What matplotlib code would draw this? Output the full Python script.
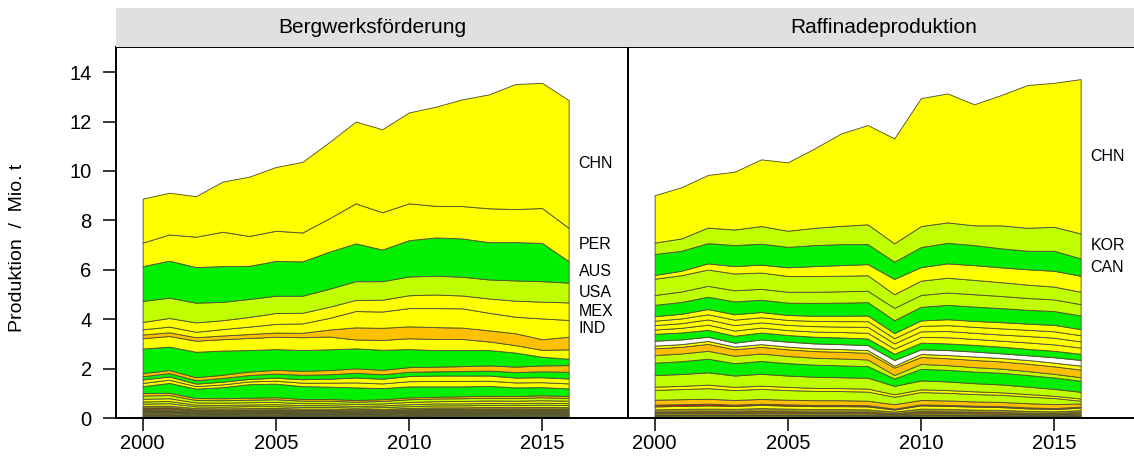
import matplotlib
matplotlib.use("Agg")
import matplotlib.pyplot as plt

plt.rcParams['font.family'] = ['Liberation Sans', 'DejaVu Sans']

years = [2000, 2001, 2002, 2003, 2004, 2005, 2006, 2007, 2008,
         2009, 2010, 2011, 2012, 2013, 2014, 2015, 2016]

# ---- Bergwerksförderung (Mio. t), Schichten von oben nach unten ----
mine_CHN = [1.78, 1.69, 1.64, 2.03, 2.40, 2.58, 2.86, 3.08, 3.31, 3.36, 3.68, 4.01, 4.32, 4.61, 5.06, 5.07, 5.17]
mine_PER = [0.95, 1.06, 1.23, 1.39, 1.21, 1.22, 1.17, 1.35, 1.62, 1.51, 1.49, 1.28, 1.31, 1.37, 1.34, 1.41, 1.35]
mine_AUS = [1.41, 1.50, 1.44, 1.45, 1.34, 1.41, 1.39, 1.50, 1.53, 1.28, 1.47, 1.55, 1.55, 1.51, 1.55, 1.55, 0.87]
mine_USA = [0.85, 0.82, 0.80, 0.74, 0.73, 0.70, 0.69, 0.73, 0.76, 0.75, 0.76, 0.76, 0.76, 0.77, 0.82, 0.83, 0.80]
mine_MEX = [0.30, 0.35, 0.38, 0.36, 0.39, 0.44, 0.43, 0.45, 0.45, 0.48, 0.52, 0.55, 0.52, 0.58, 0.65, 0.68, 0.71]
mine_IND = [0.21, 0.23, 0.22, 0.26, 0.30, 0.35, 0.38, 0.47, 0.66, 0.66, 0.74, 0.77, 0.78, 0.71, 0.67, 0.84, 0.68]
mine_BOL = [0.15, 0.15, 0.14, 0.15, 0.16, 0.17, 0.18, 0.28, 0.49, 0.49, 0.48, 0.48, 0.46, 0.45, 0.48, 0.43, 0.51]
mine_KAZ = [0.42, 0.43, 0.45, 0.46, 0.49, 0.50, 0.52, 0.52, 0.36, 0.40, 0.44, 0.45, 0.45, 0.35, 0.30, 0.28, 0.38]
mine_CAN = [0.99, 0.95, 1.03, 0.98, 0.87, 0.84, 0.84, 0.84, 0.81, 0.81, 0.73, 0.67, 0.65, 0.62, 0.57, 0.35, 0.26]
mine_SWE = [0.13, 0.12, 0.12, 0.13, 0.14, 0.15, 0.16, 0.17, 0.18, 0.18, 0.19, 0.19, 0.20, 0.21, 0.22, 0.24, 0.27]
mine_IRL = [0.13, 0.14, 0.14, 0.15, 0.16, 0.17, 0.18, 0.18, 0.19, 0.18, 0.17, 0.17, 0.18, 0.20, 0.22, 0.24, 0.27]
mine_RUS = [0.14, 0.13, 0.10, 0.11, 0.10, 0.12, 0.14, 0.16, 0.20, 0.19, 0.21, 0.22, 0.22, 0.21, 0.20, 0.20, 0.20]
mine_TUR = [0.13, 0.13, 0.10, 0.11, 0.11, 0.12, 0.14, 0.16, 0.20, 0.19, 0.21, 0.22, 0.22, 0.21, 0.20, 0.20, 0.20]
mine_BRA = [0.28, 0.40, 0.38, 0.45, 0.55, 0.55, 0.52, 0.50, 0.51, 0.45, 0.45, 0.42, 0.40, 0.40, 0.35, 0.33, 0.31]
mine_POL = [0.10, 0.09, 0.08, 0.08, 0.08, 0.08, 0.07, 0.07, 0.07, 0.07, 0.07, 0.07, 0.08, 0.08, 0.08, 0.08, 0.08]
mine_IRN = [0.13, 0.13, 0.10, 0.10, 0.10, 0.11, 0.10, 0.10, 0.09, 0.10, 0.11, 0.11, 0.11, 0.11, 0.11, 0.12, 0.11]
mine_MAR = [0.11, 0.11, 0.09, 0.09, 0.09, 0.09, 0.08, 0.08, 0.08, 0.08, 0.09, 0.09, 0.10, 0.10, 0.10, 0.10, 0.10]
mine_ERI = [0.09, 0.09, 0.07, 0.07, 0.07, 0.08, 0.07, 0.07, 0.07, 0.07, 0.08, 0.08, 0.08, 0.08, 0.08, 0.08, 0.08]
mine_VNM = [0.09, 0.10, 0.07, 0.07, 0.08, 0.07, 0.07, 0.07, 0.06, 0.07, 0.07, 0.08, 0.08, 0.08, 0.08, 0.09, 0.08]
mine_PRK = [0.07, 0.07, 0.06, 0.06, 0.06, 0.06, 0.06, 0.06, 0.05, 0.05, 0.06, 0.06, 0.06, 0.07, 0.06, 0.07, 0.06]
mine_ZAF = [0.05, 0.05, 0.04, 0.04, 0.04, 0.04, 0.03, 0.03, 0.03, 0.03, 0.04, 0.04, 0.04, 0.04, 0.04, 0.04, 0.04]
mine_ARG = [0.05, 0.05, 0.04, 0.04, 0.04, 0.04, 0.04, 0.04, 0.04, 0.04, 0.04, 0.04, 0.04, 0.04, 0.04, 0.04, 0.04]
mine_GRC = [0.04, 0.04, 0.03, 0.03, 0.03, 0.04, 0.03, 0.03, 0.03, 0.03, 0.03, 0.04, 0.04, 0.04, 0.04, 0.04, 0.04]
mine_NAM = [0.04, 0.04, 0.03, 0.03, 0.03, 0.03, 0.03, 0.03, 0.03, 0.03, 0.03, 0.03, 0.03, 0.04, 0.04, 0.04, 0.04]
mine_MNG = [0.03, 0.04, 0.03, 0.03, 0.03, 0.03, 0.03, 0.03, 0.02, 0.03, 0.03, 0.03, 0.03, 0.03, 0.03, 0.03, 0.03]
mine_PRT = [0.05, 0.05, 0.04, 0.04, 0.04, 0.04, 0.04, 0.04, 0.04, 0.04, 0.04, 0.04, 0.04, 0.04, 0.04, 0.04, 0.04]
mine_SRB = [0.04, 0.04, 0.03, 0.03, 0.03, 0.03, 0.03, 0.03, 0.03, 0.03, 0.04, 0.04, 0.04, 0.04, 0.04, 0.04, 0.04]
mine_FIN = [0.04, 0.04, 0.03, 0.03, 0.03, 0.03, 0.03, 0.03, 0.03, 0.03, 0.03, 0.04, 0.04, 0.04, 0.04, 0.04, 0.04]
mine_BGR = [0.04, 0.04, 0.04, 0.03, 0.04, 0.04, 0.03, 0.03, 0.03, 0.03, 0.04, 0.04, 0.04, 0.04, 0.04, 0.04, 0.04]
mine_JPN = [0.04, 0.04, 0.03, 0.03, 0.03, 0.03, 0.03, 0.03, 0.03, 0.03, 0.03, 0.03, 0.03, 0.03, 0.03, 0.03, 0.03]

# ---- Raffinadeproduktion (Mio. t), Schichten von oben nach unten ----
ref_CHN = [1.92, 2.07, 2.13, 2.34, 2.70, 2.77, 3.21, 3.74, 4.02, 4.25, 5.18, 5.22, 4.90, 5.27, 5.78, 5.83, 6.25]
ref_KOR = [0.46, 0.50, 0.63, 0.63, 0.71, 0.65, 0.70, 0.74, 0.80, 0.74, 0.85, 0.83, 0.80, 0.93, 0.93, 0.97, 1.01]
ref_CAN = [0.85, 0.81, 0.82, 0.85, 0.85, 0.83, 0.85, 0.85, 0.81, 0.70, 0.81, 0.83, 0.81, 0.77, 0.75, 0.81, 0.70]
ref_IND = [0.15, 0.18, 0.25, 0.30, 0.32, 0.35, 0.40, 0.43, 0.45, 0.62, 0.55, 0.58, 0.60, 0.60, 0.62, 0.64, 0.65]
ref_JPN = [0.66, 0.66, 0.66, 0.68, 0.66, 0.64, 0.64, 0.63, 0.63, 0.55, 0.58, 0.60, 0.58, 0.56, 0.54, 0.52, 0.50]
ref_ESP = [0.40, 0.42, 0.44, 0.45, 0.44, 0.44, 0.45, 0.46, 0.46, 0.50, 0.48, 0.50, 0.50, 0.49, 0.48, 0.47, 0.46]
ref_AUS = [0.46, 0.48, 0.50, 0.52, 0.50, 0.50, 0.52, 0.53, 0.54, 0.52, 0.55, 0.58, 0.58, 0.57, 0.56, 0.56, 0.55]
ref_MEX = [0.18, 0.19, 0.21, 0.22, 0.21, 0.20, 0.21, 0.22, 0.23, 0.21, 0.22, 0.24, 0.24, 0.25, 0.25, 0.26, 0.25]
ref_KAZ = [0.18, 0.19, 0.21, 0.22, 0.21, 0.20, 0.21, 0.22, 0.23, 0.21, 0.22, 0.24, 0.24, 0.25, 0.25, 0.26, 0.25]
ref_PER = [0.18, 0.19, 0.21, 0.22, 0.21, 0.21, 0.22, 0.22, 0.24, 0.21, 0.23, 0.25, 0.25, 0.25, 0.26, 0.27, 0.25]
ref_RUS = [0.17, 0.19, 0.21, 0.21, 0.20, 0.20, 0.21, 0.22, 0.23, 0.21, 0.23, 0.25, 0.24, 0.24, 0.26, 0.26, 0.25]
ref_USA = [0.28, 0.28, 0.28, 0.28, 0.28, 0.27, 0.27, 0.27, 0.27, 0.25, 0.27, 0.27, 0.27, 0.27, 0.26, 0.26, 0.25]
ref_DEU = [0.20, 0.19, 0.17, 0.16, 0.19, 0.20, 0.20, 0.20, 0.20, 0.23, 0.19, 0.20, 0.20, 0.19, 0.19, 0.22, 0.23]
ref_BRA = [0.11, 0.11, 0.12, 0.11, 0.11, 0.11, 0.11, 0.11, 0.11, 0.08, 0.12, 0.13, 0.14, 0.14, 0.15, 0.15, 0.16]
ref_BEL = [0.27, 0.27, 0.28, 0.26, 0.27, 0.27, 0.27, 0.27, 0.27, 0.30, 0.28, 0.28, 0.29, 0.29, 0.30, 0.30, 0.31]
ref_NLD = [0.31, 0.31, 0.32, 0.30, 0.30, 0.29, 0.28, 0.28, 0.27, 0.14, 0.20, 0.19, 0.18, 0.17, 0.16, 0.15, 0.14]
ref_FIN = [0.50, 0.52, 0.55, 0.50, 0.52, 0.50, 0.49, 0.48, 0.47, 0.30, 0.47, 0.47, 0.47, 0.47, 0.47, 0.46, 0.45]
ref_NOR = [0.47, 0.48, 0.50, 0.46, 0.48, 0.46, 0.45, 0.44, 0.44, 0.34, 0.36, 0.35, 0.33, 0.32, 0.30, 0.28, 0.27]
ref_POL = [0.13, 0.13, 0.14, 0.13, 0.13, 0.13, 0.12, 0.12, 0.12, 0.10, 0.11, 0.11, 0.11, 0.10, 0.10, 0.09, 0.09]
ref_FRA = [0.40, 0.41, 0.43, 0.40, 0.41, 0.39, 0.38, 0.37, 0.37, 0.30, 0.32, 0.31, 0.30, 0.29, 0.27, 0.25, 0.11]
ref_ITA = [0.20, 0.20, 0.20, 0.19, 0.19, 0.19, 0.19, 0.19, 0.18, 0.18, 0.18, 0.18, 0.17, 0.17, 0.17, 0.16, 0.13]
ref_GBR = [0.07, 0.07, 0.07, 0.05, 0.05, 0.05, 0.05, 0.05, 0.05, 0.04, 0.04, 0.04, 0.04, 0.04, 0.04, 0.04, 0.04]
ref_THA = [0.12, 0.12, 0.13, 0.12, 0.13, 0.12, 0.12, 0.12, 0.12, 0.08, 0.13, 0.12, 0.12, 0.11, 0.10, 0.09, 0.10]
ref_IRN = [0.09, 0.10, 0.10, 0.10, 0.11, 0.10, 0.10, 0.10, 0.09, 0.07, 0.10, 0.10, 0.09, 0.09, 0.08, 0.07, 0.08]
ref_ZAF = [0.07, 0.07, 0.08, 0.07, 0.08, 0.08, 0.07, 0.07, 0.07, 0.05, 0.08, 0.07, 0.07, 0.07, 0.06, 0.05, 0.06]
ref_ARG = [0.05, 0.05, 0.05, 0.05, 0.06, 0.05, 0.05, 0.05, 0.05, 0.04, 0.05, 0.05, 0.05, 0.05, 0.04, 0.04, 0.05]
ref_UZB = [0.05, 0.05, 0.05, 0.05, 0.05, 0.05, 0.05, 0.05, 0.05, 0.03, 0.05, 0.05, 0.04, 0.04, 0.04, 0.04, 0.04]
ref_VNM = [0.05, 0.05, 0.05, 0.05, 0.05, 0.05, 0.05, 0.05, 0.05, 0.04, 0.05, 0.05, 0.05, 0.04, 0.04, 0.04, 0.05]
ref_BGR = [0.04, 0.05, 0.05, 0.05, 0.05, 0.05, 0.04, 0.04, 0.04, 0.03, 0.05, 0.05, 0.04, 0.04, 0.03, 0.03, 0.04]

Y, G, LG, O, WH = '#ffff00', '#00f000', '#bfff00', '#ffc000', '#ffffff'
RD, BR, OL, DK = '#e01000', '#a05a10', '#9a9a20', '#5a4a10'

# (Kürzel, Werte, Farbe) - oben nach unten
mine_layers = [
    ('CHN', mine_CHN, Y), ('PER', mine_PER, Y), ('AUS', mine_AUS, G), ('USA', mine_USA, LG),
    ('MEX', mine_MEX, Y), ('IND', mine_IND, Y), ('BOL', mine_BOL, O), ('KAZ', mine_KAZ, Y),
    ('CAN', mine_CAN, G), ('SWE', mine_SWE, O), ('IRL', mine_IRL, G), ('RUS', mine_RUS, Y),
    ('TUR', mine_TUR, Y), ('BRA', mine_BRA, G), ('POL', mine_POL, O), ('IRN', mine_IRN, LG),
    ('MAR', mine_MAR, Y), ('ERI', mine_ERI, LG), ('VNM', mine_VNM, Y), ('PRK', mine_PRK, OL),
    ('ZAF', mine_ZAF, RD), ('ARG', mine_ARG, Y), ('GRC', mine_GRC, DK), ('NAM', mine_NAM, BR),
    ('MNG', mine_MNG, Y), ('PRT', mine_PRT, LG), ('SRB', mine_SRB, OL), ('FIN', mine_FIN, Y),
    ('BGR', mine_BGR, DK), ('JPN', mine_JPN, Y),
]
ref_layers = [
    ('CHN', ref_CHN, Y), ('KOR', ref_KOR, LG), ('CAN', ref_CAN, G), ('IND', ref_IND, Y),
    ('JPN', ref_JPN, LG), ('ESP', ref_ESP, LG), ('AUS', ref_AUS, G), ('MEX', ref_MEX, Y),
    ('KAZ', ref_KAZ, Y), ('PER', ref_PER, Y), ('RUS', ref_RUS, Y), ('USA', ref_USA, G),
    ('DEU', ref_DEU, WH), ('BRA', ref_BRA, Y), ('BEL', ref_BEL, O), ('NLD', ref_NLD, LG),
    ('FIN', ref_FIN, G), ('NOR', ref_NOR, LG), ('POL', ref_POL, Y), ('FRA', ref_FRA, LG),
    ('ITA', ref_ITA, O), ('GBR', ref_GBR, RD), ('THA', ref_THA, Y), ('IRN', ref_IRN, OL),
    ('ZAF', ref_ZAF, BR), ('ARG', ref_ARG, Y), ('UZB', ref_UZB, DK), ('VNM', ref_VNM, LG),
    ('BGR', ref_BGR, OL),
]
mine_labels = ['CHN', 'PER', 'AUS', 'USA', 'MEX', 'IND']
ref_labels = ['CHN', 'KOR', 'CAN']

W, H = 1134, 471
fig = plt.figure(figsize=(W / 100, H / 100), dpi=100)
ax_l, ax_b, ax_w, ax_h = 116 / W, 1 - 418 / H, 512 / W, 371 / H
ax1 = fig.add_axes([ax_l, ax_b, ax_w, ax_h])
ax2 = fig.add_axes([628 / W, ax_b, ax_w, ax_h])


def draw_panel(ax, layers, labels, title):
    bottom_up = layers[::-1]
    ax.stackplot(years, *[v for _, v, _ in bottom_up],
                 colors=[c for _, _, c in bottom_up],
                 edgecolor='#55552e', linewidth=0.65)
    # Beschriftung: Mitte der Schicht im letzten Jahr
    top = sum(v[-1] for _, v, _ in layers)
    for name, v, _ in layers:
        if name in labels:
            ax.text(2016.38, top - v[-1] / 2, name, fontsize=11.5,
                    va='center', ha='left')
        top -= v[-1]
    ax.set_xlim(1999.0, 2018.23)
    ax.set_ylim(0, 15.02)
    ax.set_xticks([2000, 2005, 2010, 2015])
    ax.tick_params(axis='both', direction='out', length=9.5, width=1.1,
                   labelsize=14.5, pad=2)
    for s in ax.spines.values():
        s.set_linewidth(1.4)
    # Streifen mit Titel
    pos = ax.get_position()
    strip = fig.add_axes([pos.x0, pos.y1, pos.width, 39 / H])
    strip.set_facecolor('#e0e0e0')
    strip.set_xticks([])
    strip.set_yticks([])
    for s in strip.spines.values():
        s.set_visible(False)
    strip.text(0.5, 0.5, title, ha='center', va='center', fontsize=15,
               transform=strip.transAxes)


draw_panel(ax1, mine_layers, mine_labels, 'Bergwerksförderung')
draw_panel(ax2, ref_layers, ref_labels, 'Raffinadeproduktion')

ax1.set_yticks([0, 2, 4, 6, 8, 10, 12, 14])
ax1.tick_params(axis='y', pad=8)
ax2.tick_params(axis='y', left=False, labelleft=False)

fig.text(18 / W, 1 - 248 / H, 'Produktion  /  Mio. t', rotation=90,
         ha='center', va='center', fontsize=14)

fig.savefig('out.png', dpi=100)
